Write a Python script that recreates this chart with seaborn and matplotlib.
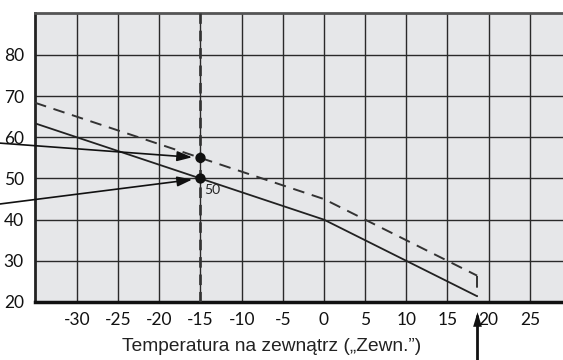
import matplotlib
matplotlib.use("Agg")
import matplotlib.pyplot as plt
import seaborn as sns
import pandas as pd

# heating curve data
outdoor_temp = [-35.1, 0, 10, 18.6]
supply_temp = [63.4, 40, 30, 21.4]
shifted_temp = [68.4, 45, 35, 26.4]
shifted_drop = [26.4, 21.4]
design_temp = -15
design_points = [50, 55]
x_ticks = [-30, -25, -20, -15, -10, -5, 0, 5, 10, 15, 20, 25]
y_ticks = [20, 30, 40, 50, 60, 70, 80]

sns.set_style("whitegrid", {"axes.facecolor": "#e6e7e9", "grid.color": "#2a2a2a"})
plt.rcParams['font.family'] = ['Lato', 'DejaVu Sans']

fig = plt.figure(figsize=(5.63, 3.6), dpi=100)
ax = fig.add_axes([35 / 563, 58 / 360, 536 / 563, 289 / 360])

curves = pd.DataFrame({"x": outdoor_temp, "base": supply_temp, "shift": shifted_temp})
sns.lineplot(data=curves, x="x", y="base", ax=ax, color="#222222", lw=1.3, zorder=3)
sns.lineplot(data=curves, x="x", y="shift", ax=ax, color="#333333", lw=1.4,
             dashes=False, linestyle=(0, (6, 4)), zorder=3)
ax.plot([outdoor_temp[-1]] * 2, shifted_drop, color="#333333", lw=1.4,
        linestyle=(0, (6, 4)), zorder=3)
ax.axvline(design_temp, color="#333333", lw=1.9, linestyle=(0, (4, 2.6)), zorder=3)

sns.scatterplot(x=[design_temp] * 2, y=design_points, ax=ax, color="#111111",
                s=55, edgecolor="none", zorder=4)
ax.annotate("50", (design_temp, design_points[0]), xytext=(3, -4),
            textcoords="offset points", ha="left", va="top", fontsize=10)

# arrows coming in from outside the plot
arrow = dict(arrowstyle="-|>,head_length=0.9,head_width=0.3", color="#111111",
             lw=1.2, shrinkA=0, shrinkB=6)
ax.annotate("", (design_temp, design_points[1]), xytext=(-39.4, 58.6),
            arrowprops=arrow, annotation_clip=False)
ax.annotate("", (design_temp, design_points[0]), xytext=(-39.4, 43.8),
            arrowprops=arrow, annotation_clip=False)

# upward arrow under the axis at the end of the curves
ax.plot([outdoor_temp[-1]] * 2, [4.0, 16.8], color="#111111", lw=2, clip_on=False,
        solid_capstyle="butt", zorder=10)
head = [(-0.3, -0.5), (0.3, -0.5), (0, 0.5)]
ax.plot(outdoor_temp[-1], 15.9, marker=head, ms=10.5, color="#111111", clip_on=False,
        markeredgewidth=0, zorder=10)

ax.set_xlim(-35.1, 30)
ax.set_ylim(20, 90.2)
ax.set_xticks(x_ticks)
ax.set_yticks(y_ticks)
ax.set_xticklabels([str(t) for t in x_ticks])
ax.grid(True, color="#2a2a2a", lw=1)
ax.tick_params(length=0, labelsize=12.5, colors="#111111")
ax.tick_params(axis="x", pad=7)
ax.tick_params(axis="y", pad=8)
ax.set_xlabel("")
ax.set_ylabel("")

for side in ["left", "bottom", "top"]:
    ax.spines[side].set_visible(True)
ax.spines["left"].set_color("#222222")
ax.spines["left"].set_linewidth(2)
ax.spines["bottom"].set_color("#111111")
ax.spines["bottom"].set_linewidth(2.5)
ax.spines["top"].set_color("#555555")
ax.spines["top"].set_linewidth(2)
ax.spines["right"].set_visible(False)

fig.text(272 / 563, 1 - 351 / 360, "Temperatura na zewnątrz („Zewn.”)",
         ha="center", va="baseline", fontsize=13.8, family=["Liberation Sans", "DejaVu Sans"],
         color="#222222")

fig.savefig("out.png", dpi=100)
